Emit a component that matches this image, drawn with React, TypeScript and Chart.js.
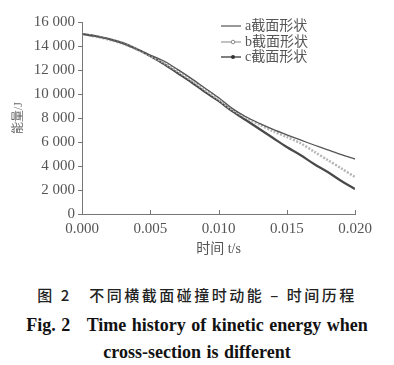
import React, { useEffect, useRef } from "react";
import { Chart, registerables } from "chart.js";
Chart.register(...registerables);

const times = [0, 0.001, 0.002, 0.003, 0.004, 0.005, 0.006, 0.007, 0.008, 0.009, 0.01, 0.011, 0.012, 0.013, 0.014, 0.015, 0.016, 0.017, 0.018, 0.019, 0.02];
const seriesA = [15000, 14800, 14550, 14200, 13750, 13250, 12750, 12050, 11300, 10500, 9700, 8800, 8100, 7550, 7050, 6600, 6170, 5750, 5350, 4950, 4580];
const seriesB = [15000, 14780, 14520, 14180, 13720, 13200, 12600, 11900, 11150, 10350, 9550, 8700, 8050, 7450, 6900, 6420, 5900, 5200, 4500, 3800, 3080];
const seriesC = [15000, 14830, 14580, 14250, 13750, 13170, 12500, 11750, 11000, 10170, 9420, 8580, 7830, 7080, 6330, 5580, 4920, 4170, 3500, 2750, 2080];
const legendLabels = ["a截面形状", "b截面形状", "c截面形状"];
const xTitle = "时间 t/s";
const yTitle = "能量/J";
const captionCn = "图 2\u3000不同横截面碰撞时动能 – 时间历程";
const captionEn1 = "Fig. 2\u00a0\u00a0\u00a0Time history of kinetic energy when";
const captionEn2 = "cross-section is different";

const SERIF = "\"Liberation Serif\", \"Times New Roman\", \"DejaVu Serif\", \"Noto Sans CJK SC\", serif";

const toPts = (arr: number[]) => times.map((t, i) => ({ x: t, y: arr[i] }));

export default function App() {
  const ref = useRef<HTMLCanvasElement>(null);
  useEffect(() => {
    const extras = {
      id: "extras",
      afterDraw(chart: any) {
        const ctx = chart.ctx;
        const xs = chart.scales.x;
        const area = chart.chartArea;
        ctx.save();
        ctx.strokeStyle = "#777";
        ctx.lineWidth = 1;
        xs.ticks.forEach((t: any) => {
          const px = Math.round(xs.getPixelForValue(t.value)) + 0.5;
          ctx.beginPath();
          ctx.moveTo(px, area.bottom);
          ctx.lineTo(px, area.bottom - 4);
          ctx.stroke();
        });
        const rows = [26, 42, 57];
        ctx.font = "14px " + SERIF;
        ctx.textBaseline = "middle";
        rows.forEach((y, i) => {
          ctx.beginPath();
          ctx.strokeStyle = i === 1 ? "#999" : "#555";
          ctx.lineWidth = i === 2 ? 1.5 : 1.2;
          ctx.moveTo(221, y);
          ctx.lineTo(241, y);
          ctx.stroke();
          if (i === 1) {
            ctx.beginPath();
            ctx.fillStyle = "#fff";
            ctx.strokeStyle = "#888";
            ctx.lineWidth = 1;
            ctx.arc(233, y, 1.8, 0, Math.PI * 2);
            ctx.fill();
            ctx.stroke();
          }
          if (i === 2) {
            ctx.beginPath();
            ctx.fillStyle = "#333";
            ctx.arc(233, y, 2, 0, Math.PI * 2);
            ctx.fill();
          }
          ctx.fillStyle = "#555";
          ctx.fillText(legendLabels[i], 245, y);
        });
        ctx.restore();
      },
    };
    const chart = new Chart(ref.current as HTMLCanvasElement, {
      type: "line",
      data: {
        datasets: [
          { label: legendLabels[0], data: toPts(seriesA), borderColor: "#555", borderWidth: 1.3, pointRadius: 0, tension: 0.3, fill: false },
          { label: legendLabels[1], data: toPts(seriesB), borderColor: "#b5b5b5", borderWidth: 2.5, borderDash: [2, 1.5], pointRadius: 0, tension: 0.3, fill: false },
          { label: legendLabels[2], data: toPts(seriesC), borderColor: "#4a4a4a", borderWidth: 2.2, pointRadius: 0, tension: 0.3, fill: false },
        ],
      },
      options: {
        animation: false,
        responsive: false,
        layout: { padding: { top: 22, right: 39, left: 0, bottom: 0 } },
        plugins: { legend: { display: false }, tooltip: { enabled: false } },
        scales: {
          x: {
            type: "linear",
            min: 0,
            max: 0.02,
            ticks: {
              stepSize: 0.005,
              callback: (v: any) => Number(v).toFixed(3),
              color: "#555",
              padding: 6,
              maxRotation: 0,
              font: { family: SERIF, size: 15 },
            },
            grid: { display: true, drawOnChartArea: false, drawTicks: false },
            border: { color: "#777", width: 1 },
            title: {
              display: true,
              text: xTitle,
              color: "#555",
              padding: { top: 0, bottom: 12 },
              font: { family: SERIF, size: 14 },
            },
            afterFit: (s: any) => {
              s.height = 56;
            },
          },
          y: {
            min: 0,
            max: 16000,
            ticks: {
              stepSize: 2000,
              callback: (v: any) => {
                const n = Number(v);
                if (n < 1000) return String(n);
                const th = Math.floor(n / 1000);
                return th + " " + String(n % 1000).padStart(3, "0");
              },
              color: "#555",
              padding: 3,
              font: { family: SERIF, size: 15 },
            },
            grid: { display: true, drawOnChartArea: false, drawTicks: true, tickLength: 4, color: "#777" },
            border: { color: "#777", width: 1 },
            title: {
              display: true,
              text: yTitle,
              color: "#666",
              padding: { top: 12, bottom: 0 },
              font: { family: SERIF, size: 12 },
            },
            afterFit: (s: any) => {
              s.width = 82;
            },
          },
        },
      },
      plugins: [extras],
    });
    let alive = true;
    const redraw = () => {
      if (alive) chart.update();
    };
    if ((document as any).fonts) {
      (document as any).fonts.load("15px \"Liberation Serif\"").then(redraw).catch(() => {});
      (document as any).fonts.ready.then(redraw).catch(() => {});
    }
    const tm = setTimeout(redraw, 50);
    return () => {
      alive = false;
      clearTimeout(tm);
      chart.destroy();
    };
  }, []);

  const en = {
    position: "absolute" as const,
    left: 0,
    width: 394,
    textAlign: "center" as const,
    fontFamily: "\"Liberation Serif\", serif",
    fontWeight: "bold" as const,
    fontSize: 18,
    lineHeight: "22px",
    color: "#111",
    whiteSpace: "pre" as const,
    wordSpacing: 1,
  };

  return (
    <div style={{ position: "absolute", left: 0, top: 0, width: 394, height: 365, background: "#fff" }}>
      <canvas ref={ref} width={394} height={270} style={{ display: "block", width: 394, height: 270 }} />
      <div
        style={{
          position: "absolute",
          top: 284,
          left: 0,
          width: 394,
          textAlign: "center",
          fontFamily: "\"Noto Sans CJK SC\", sans-serif",
          fontSize: 15,
          fontWeight: 500,
          letterSpacing: 2.5,
          lineHeight: "22px",
          color: "#222",
        }}
      >
        {captionCn}
      </div>
      <div style={{ ...en, top: 314 }}>{captionEn1}</div>
      <div style={{ ...en, top: 341 }}>{captionEn2}</div>
    </div>
  );
}
